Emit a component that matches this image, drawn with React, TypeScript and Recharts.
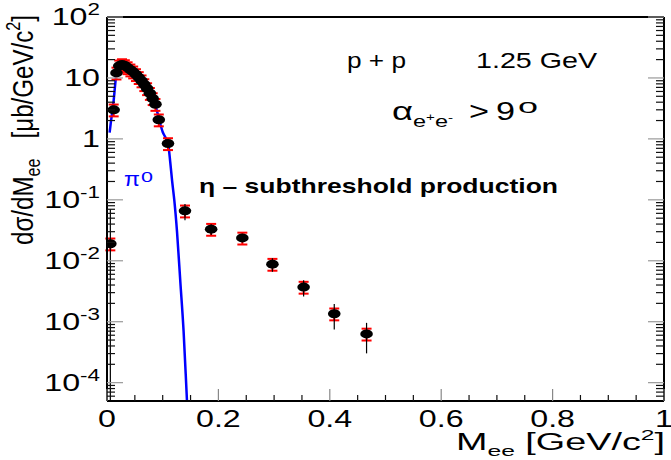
import { ComposedChart, Line, Scatter, ErrorBar, XAxis, YAxis } from "recharts";

// measured e+e- invariant mass bins (GeV/c^2) and dsigma/dM (ub/GeV/c^2)
const massBins = [
  0.006, 0.012, 0.017, 0.022, 0.027, 0.032, 0.037, 0.042, 0.047, 0.052, 0.057,
  0.062, 0.067, 0.072, 0.077, 0.082, 0.087, 0.093, 0.1095, 0.14, 0.187, 0.243,
  0.297, 0.353, 0.408, 0.466,
];
const crossSection = [
  0.019, 3.0, 12.1, 15.8, 16.6, 16.0, 14.8, 13.6, 12.6, 11.4, 10.2, 9.0, 7.8,
  6.7, 5.6, 4.6, 3.7, 2.06, 0.84, 0.066, 0.033, 0.0237, 0.0088, 0.0037, 0.00135,
  0.00063,
];
// relative statistical / systematic errors
const statErr = [
  2.7, 0.08, 0.05, 0.05, 0.05, 0.05, 0.05, 0.05, 0.05, 0.05, 0.05, 0.05, 0.05,
  0.05, 0.05, 0.05, 0.05, 0.08, 0.12, 0.3, 0.2, 0.15, 0.25, 0.3, 0.45, 0.52,
];
const sysErr = [
  0.22, 0.22, 0.22, 0.22, 0.22, 0.22, 0.22, 0.22, 0.22, 0.22, 0.22, 0.22, 0.22,
  0.22, 0.22, 0.22, 0.22, 0.22, 0.22, 0.22, 0.22, 0.22, 0.22, 0.22, 0.22, 0.22,
];

// pi0 Dalitz simulation
const piMass = [
  0.0047, 0.007, 0.0095, 0.012, 0.0145, 0.0167, 0.019, 0.022, 0.026, 0.03,
  0.035, 0.04, 0.045, 0.05, 0.055, 0.06, 0.065, 0.07, 0.075, 0.08, 0.085, 0.09,
  0.095, 0.1, 0.105, 0.11, 0.1135, 0.117, 0.121, 0.1257, 0.1316, 0.1375,
  0.1436, 0.147,
];
const piCrossSection = [
  1.27, 1.9, 2.8, 4.3, 7.5, 11.5, 13.8, 15.3, 16.2, 16.2, 15.2, 14.0, 13.0,
  11.9, 10.7, 9.5, 8.3, 7.1, 6.0, 4.9, 3.9, 2.8, 1.85, 1.3, 1.05, 0.8, 0.42,
  0.2, 0.095, 0.03, 0.0046, 0.0007, 0.00005, 0.000012,
];

const xTickLabels = ["0", "0.2", "0.4", "0.6", "0.8", "1"];

const Y_MIN = 5e-5;
const Y_MAX = 100;
const FONT = "'Liberation Sans', Arial, Helvetica, sans-serif";

const xTicks = Array.from({ length: 21 }, (_, i) => i * 0.05);
const yTicks: number[] = [];
for (let k = -5; k <= 2; k++) {
  for (let m = 1; m <= 9; m++) {
    const v = m * Math.pow(10, k);
    if (v > Y_MIN * 1.001 && v <= Y_MAX * 1.001) yTicks.push(v);
  }
}

const points = massBins.map((m, i) => {
  const y = crossSection[i];
  const stat = statErr[i] * y;
  return { x: m, y, stat: [Math.min(stat, y - Y_MIN), stat], sys: sysErr[i] * y };
});
const piCurve = piMass.map((m, i) => ({ x: m, y: piCrossSection[i] }));

const isMajorX = (v: number) => Math.abs(v * 5 - Math.round(v * 5)) < 1e-6;
const isMajorY = (v: number) => {
  const e = Math.log10(v);
  return Math.abs(e - Math.round(e)) < 1e-6;
};

function BottomTick({ x, y, payload }: any) {
  const major = isMajorX(payload.value);
  return (
    <g>
      <line x1={x} x2={x} y1={y} y2={y - (major ? 12 : 6)} stroke={major ? "#888" : "#111"} strokeWidth={1.2} />
      {major && (
        <text
          transform={`translate(${x},${y + 26}) scale(1.4,1)`}
          textAnchor="middle"
          fontSize={23}
          fontFamily={FONT}
          fill="#000"
        >
          {xTickLabels[Math.round(payload.value * 5)]}
        </text>
      )}
    </g>
  );
}

function TopTick({ x, y, payload }: any) {
  const major = isMajorX(payload.value);
  return <line x1={x} x2={x} y1={y} y2={y + (major ? 12 : 6)} stroke={major ? "#888" : "#111"} strokeWidth={1.2} />;
}

function DecadeLabel({ x, y, exp }: { x: number; y: number; exp: number }) {
  return (
    <text transform={`translate(${x},${y}) scale(1.4,1)`} textAnchor="end" fontSize={23} fontFamily={FONT} fill="#000">
      {exp === 0 ? "1" : "10"}
      {exp !== 0 && exp !== 1 && (
        <tspan dy={-10} fontSize={16}>
          {exp}
        </tspan>
      )}
    </text>
  );
}

function LeftTick({ x, y, payload }: any) {
  const major = isMajorY(payload.value);
  return (
    <g>
      <line x1={x} x2={x + (major ? 16 : 8)} y1={y} y2={y} stroke={major ? "#999" : "#111"} strokeWidth={1.2} />
      {major && <DecadeLabel x={x - 7} y={y + 8} exp={Math.round(Math.log10(payload.value))} />}
    </g>
  );
}

function RightTick({ x, y, payload }: any) {
  const major = isMajorY(payload.value);
  return <line x1={x} x2={x - (major ? 16 : 8)} y1={y} y2={y} stroke={major ? "#999" : "#111"} strokeWidth={1.2} />;
}

const Marker = (p: any) => <ellipse cx={p.cx} cy={p.cy} rx={6.3} ry={4.5} fill="#000" />;

export default function App() {
  const axisLine = { stroke: "#000", strokeWidth: 2 };
  return (
    <div style={{ position: "absolute", left: 0, top: 0, width: 671, height: 460, background: "#fff" }}>
      <ComposedChart width={671} height={460} margin={{ top: 16, right: 6, bottom: 58, left: 106 }}>
        <XAxis
          dataKey="x"
          type="number"
          domain={[0, 1]}
          allowDataOverflow
          ticks={xTicks}
          interval={0}
          height={1}
          tickSize={0}
          tickMargin={0}
          tickLine={false}
          axisLine={axisLine}
          tick={<BottomTick />}
        />
        <XAxis
          xAxisId="top"
          orientation="top"
          type="number"
          domain={[0, 1]}
          allowDataOverflow
          ticks={xTicks}
          interval={0}
          height={1}
          tickSize={0}
          tickMargin={0}
          tickLine={false}
          axisLine={axisLine}
          tick={<TopTick />}
        />
        <YAxis
          dataKey="y"
          type="number"
          scale="log"
          domain={[Y_MIN, Y_MAX]}
          allowDataOverflow
          ticks={yTicks}
          interval={0}
          width={1}
          tickSize={0}
          tickMargin={0}
          tickLine={false}
          axisLine={axisLine}
          tick={<LeftTick />}
        />
        <YAxis
          yAxisId="right"
          orientation="right"
          type="number"
          scale="log"
          domain={[Y_MIN, Y_MAX]}
          allowDataOverflow
          ticks={yTicks}
          interval={0}
          width={1}
          tickSize={0}
          tickMargin={0}
          tickLine={false}
          axisLine={axisLine}
          tick={<RightTick />}
        />
        <Line
          data={piCurve}
          dataKey="y"
          type="monotone"
          stroke="#0000ff"
          strokeWidth={2.5}
          dot={false}
          isAnimationActive={false}
        />
        <Scatter data={points} dataKey="y" shape={Marker} isAnimationActive={false}>
          <ErrorBar dataKey="sys" direction="y" width={5} stroke="#ff0000" strokeWidth={2} />
          <ErrorBar dataKey="stat" direction="y" width={0} stroke="#000" strokeWidth={1.2} />
        </Scatter>
      </ComposedChart>

      <svg
        width={671}
        height={460}
        style={{ position: "absolute", left: 0, top: 0, pointerEvents: "none" }}
        fontFamily={FONT}
      >
        {/* axis titles */}
        <text
          x={456}
          y={450}
          fontSize={23}
          textLength={209}
          lengthAdjust="spacingAndGlyphs"
          style={{ whiteSpace: "pre" }}
        >
          M<tspan dy={6} fontSize={15}>ee</tspan>
          <tspan dy={-6}> [GeV/c</tspan>
          <tspan dy={-10} fontSize={15}>2</tspan>
          <tspan dy={10}>]</tspan>
        </text>
        <g transform="translate(33,130) scale(1.4,1) rotate(-90)">
          <text
            x={0}
            y={0}
            textAnchor="middle"
            fontSize={21}
            textLength={230}
            lengthAdjust="spacingAndGlyphs"
            style={{ whiteSpace: "pre" }}
          >
            dσ/dM<tspan dy={5} fontSize={14}>ee</tspan>
            <tspan dy={-5}>{"   [μb/GeV/c"}</tspan>
            <tspan dy={-9} fontSize={14}>2</tspan>
            <tspan dy={9}>]</tspan>
          </text>
        </g>

        {/* reaction and cut */}
        <text x={347} y={68} fontSize={22} textLength={59} lengthAdjust="spacingAndGlyphs">
          p + p
        </text>
        <text x={476} y={68} fontSize={22} textLength={121} lengthAdjust="spacingAndGlyphs">
          1.25 GeV
        </text>
        <text x={392} y={120} fontSize={26} textLength={21} lengthAdjust="spacingAndGlyphs">
          α
        </text>
        <text x={413} y={127} fontSize={17} textLength={40} lengthAdjust="spacingAndGlyphs">
          e<tspan dy={-6} fontSize={11}>+</tspan>
          <tspan dy={6}>e</tspan>
          <tspan dy={-6} fontSize={11}>-</tspan>
        </text>
        <text x={469} y={120} fontSize={26} textLength={20} lengthAdjust="spacingAndGlyphs">
          &gt;
        </text>
        <text x={496} y={120} fontSize={26} textLength={19} lengthAdjust="spacingAndGlyphs">
          9
        </text>
        <text x={518} y={113} fontSize={20} textLength={20} lengthAdjust="spacingAndGlyphs">
          o
        </text>

        <text x={199} y={193} fontSize={21} fontWeight="bold" textLength={359} lengthAdjust="spacingAndGlyphs">
          η – subthreshold production
        </text>

        <text x={124} y={186} fontSize={21} fill="#0000ff" textLength={16} lengthAdjust="spacingAndGlyphs">
          π
        </text>
        <text x={141} y={182} fontSize={14} fill="#0000ff" textLength={12} lengthAdjust="spacingAndGlyphs">
          0
        </text>
      </svg>
    </div>
  );
}
